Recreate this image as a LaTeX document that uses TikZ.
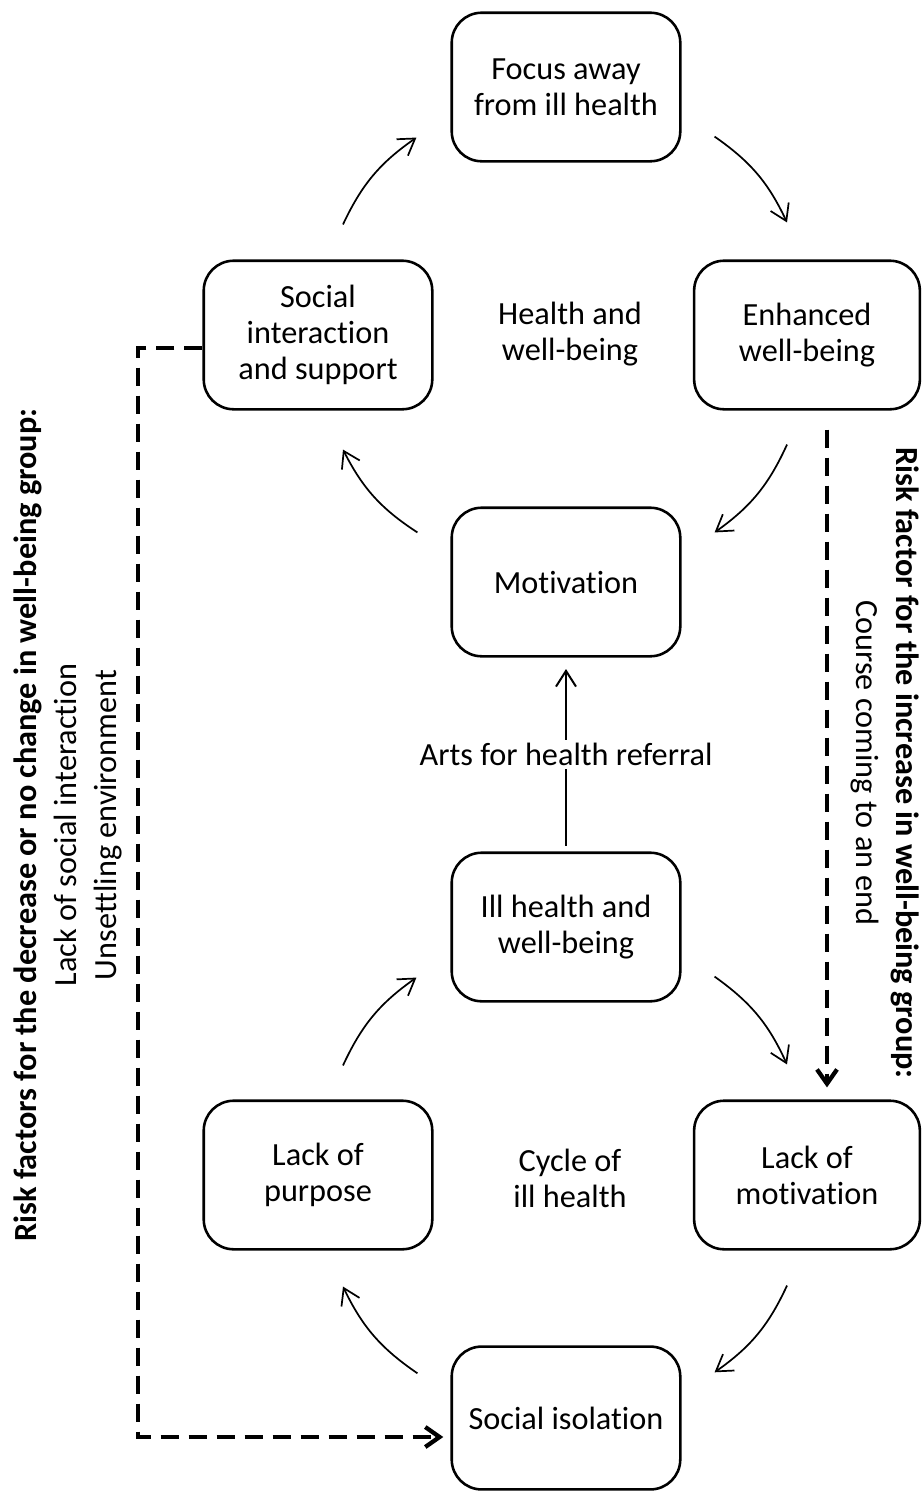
\documentclass[tikz,border=0pt]{standalone}
\usepackage{fontspec}
\setmainfont[Ligatures=NoCommon]{Carlito}
\usetikzlibrary{arrows.meta, calc}
\tikzset{>={Straight Barb[length=5.5pt,width=7pt]}}

\begin{document}
\begin{tikzpicture}[x=0.35pt, y=-0.35pt,
    stage/.style={draw, line width=0.9pt, rounded corners=10.5pt, minimum width=80pt, minimum height=52pt, align=center, font=\fontsize{11.3}{12.6}\selectfont},
    hub/.style={align=center, font=\fontsize{11.3}{12.6}\selectfont},
    side/.style={align=center, font=\fontsize{11.3}{14}\selectfont},
    turn/.style={->, line width=0.6pt, bend left=15},
    risk/.style={-{Straight Barb[length=5pt,width=7pt]}, line width=1.5pt, dash pattern=on 6.3pt off 3.5pt}]
    \useasboundingbox (0,0) rectangle (922,1493);
    % health and well-being cycle
    \node [stage] (focus) at (566,87) {Focus away\\from ill health};
    \node [stage] (social) at (318,335) {Social\\interaction\\and support};
    \node [stage, minimum width=79pt] (enhanced) at (807,335) {Enhanced\\well-being};
    \node [stage] (motiv) at (566,582) {Motivation};
    \node [hub] (health) at (570,334) {Health and\\well-being};
    % cycle of ill health
    \node [stage] (ill) at (566,927) {Ill health and\\well-being};
    \node [stage] (purpose) at (318,1175) {Lack of\\purpose};
    \node [stage, minimum width=79pt] (lackmot) at (807,1175) {Lack of\\motivation};
    \node [stage, minimum height=50pt] (isol) at (566,1418) {Social isolation};
    \node [hub] (illcycle) at (570,1178) {Cycle of\\ill health};

    \draw [turn] ($(social.north)+(25,-35)$) to ($(focus.south west)+(-34,-25)$);
    \draw [turn] ($(focus.south east)+(33,-26)$) to ($(enhanced.north)+(-20,-37)$);
    \draw [turn] ($(enhanced.south)+(-20,34)$) to ($(motiv.north east)+(33,26)$);
    \draw [turn] ($(motiv.north west)+(-33,26)$) to ($(social.south)+(25,39)$);

    \draw [turn] ($(purpose.north)+(25,-34)$) to ($(ill.south west)+(-34,-25)$);
    \draw [turn] ($(ill.south east)+(33,-26)$) to ($(lackmot.north)+(-20,-35)$);
    \draw [turn] ($(lackmot.south)+(-20,35)$) to ($(isol.north east)+(33,27)$);
    \draw [turn] ($(isol.north west)+(-33,28)$) to ($(purpose.south)+(25,36)$);

    \draw [->, line width=0.7pt, shorten <=2pt, shorten >=4pt] (ill.north) -- (motiv.south)
        node [midway, fill=white, inner sep=1pt, font=\fontsize{11.3}{12.6}\selectfont] {Arts for health referral};

    % risk factors
    \node [side, rotate=90] (leftrisk) at (68,825) {\textbf{Risk factors for the decrease or no change in well-being group:}\\Lack of social interaction\\Unsettling environment};
    \node [side, rotate=-90] (rightrisk) at (885,763) {\textbf{Risk factor for the increase in well-being group:}\\Course coming to an end};

    \coordinate (riskcorner) at (138,1437);
    \draw [risk, shorten >=2.5pt] ($(social.west)+(0,13)$) -| (riskcorner) -- (riskcorner -| isol.west);
    \draw [risk] ($(enhanced.south)+(20,19)$) -- ($(lackmot.north)+(20,-12)$);
\end{tikzpicture}
\end{document}
